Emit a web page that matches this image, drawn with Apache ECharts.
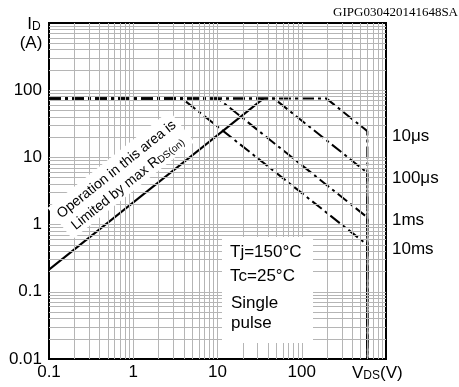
<!DOCTYPE html>
<html><head><meta charset="utf-8">
<script src="https://cdn.jsdelivr.net/npm/echarts@6/dist/echarts.min.js"></script>
<style>html,body{margin:0;padding:0;background:#fff}#c{width:459px;height:387px}</style>
</head><body><div id="c"></div>
<script>
// ---- data ----
const xTickLabels = ['0.1', '1', '10', '100'];
const yTickLabels = ['0.01', '0.1', '1', '10', '100'];
const xMin = 0.1, xMax = 1000;
const yMin = 0.01, yMax = 1000;
const pulseNames = ['10μs', '100μs', '1ms', '10ms'];
const idMax = 75;            // A, current limit
const vdsMax = 600;          // V, voltage limit
const kneeVds = [197, 47, 10.2, 3.8];      // V where each pulse line leaves the current limit
const endId = [24.6, 5.9, 1.28, 0.5];       // A at vdsMax for each pulse line
const rdsLine = [[0.1, 0.214], [35, 75]];   // RDS(on) limit line
const gridMultipliers = [1, 2, 3, 4, 5, 6, 7, 8, 9];
const xDecades = [0.1, 1, 10, 100];
const yDecades = [0.01, 0.1, 1, 10, 100];

// grid lines (decoration), strictly inside the plot area
const xGrid = [], yGrid = [];
xDecades.forEach(d => gridMultipliers.forEach(m => { const v = d * m; if (v > xMin * 1.0001 && v < xMax * 0.9999) xGrid.push(v); }));
xGrid.push(...[]);
yDecades.forEach(d => gridMultipliers.forEach(m => { const v = d * m; if (v > yMin * 1.0001 && v < yMax * 0.9999) yGrid.push(v); }));
// include decades themselves inside
[1, 10, 100].forEach(v => { if (!xGrid.includes(v)) xGrid.push(v); });

const FONT = "'Liberation Sans', Arial, sans-serif";
function fmt(list) {
  return function (v) {
    const s = list.find(t => Math.abs(Math.log10(+t) - Math.log10(v)) < 1e-6);
    return s || '';
  };
}

const series = [{
  type: 'line', data: [], silent: true, z: 1,
  markLine: {
    silent: true, symbol: ['none', 'none'], animation: false,
    label: { show: false },
    lineStyle: { color: '#b5b5b5', width: 1, type: 'solid' },
    emphasis: { disabled: true },
    data: [...xGrid.map(v => ({ xAxis: v })), ...yGrid.map(v => ({ yAxis: v }))]
  }
}];
pulseNames.forEach((n, i) => {
  series.push({
    name: n, type: 'line', symbol: 'none', z: 3, silent: true,
    data: [[xMin, idMax], [kneeVds[i], idMax], [vdsMax, endId[i]], [vdsMax, yMin]],
    lineStyle: { color: '#000', width: 2, type: [12, 4, 3, 4] }
  });
});
series.push({
  name: 'RDS(on)', type: 'line', symbol: 'none', z: 4, silent: true,
  data: rdsLine, lineStyle: { color: '#000', width: 2, type: 'solid' }
});

const chart = echarts.init(document.getElementById('c'), null, { renderer: 'canvas' });
chart.setOption({
  animation: false,
  backgroundColor: '#fff',
  grid: { left: 49, right: 73, top: 23, bottom: 28, show: true, borderColor: '#000', borderWidth: 2, backgroundColor: 'transparent' },
  xAxis: {
    type: 'log', logBase: 10, min: xMin, max: xMax,
    axisLine: { show: false }, axisTick: { show: false }, splitLine: { show: false },
    axisLabel: { formatter: fmt(xTickLabels), color: '#000', fontSize: 17, fontFamily: FONT, margin: 5, showMinLabel: true, showMaxLabel: true }
  },
  yAxis: {
    type: 'log', logBase: 10, min: yMin, max: yMax,
    axisLine: { show: false }, axisTick: { show: false }, splitLine: { show: false },
    axisLabel: { formatter: fmt(yTickLabels), color: '#000', fontSize: 17, fontFamily: FONT, margin: 7, showMinLabel: true, showMaxLabel: true }
  },
  series: series,
  graphic: [
    { type: 'text', x: 458, y: 13, z: 10, style: { text: 'GIPG030420141648SA', font: "13px 'Liberation Serif', 'Times New Roman', serif", fill: '#000', align: 'right', verticalAlign: 'middle' } },
    { type: 'text', x: 34, y: 24, z: 10, style: { text: '{a|I}{b|D}', align: 'center', verticalAlign: 'middle', rich: { a: { fontSize: 17, fontFamily: FONT, fill: '#000', lineHeight: 18, verticalAlign: 'bottom' }, b: { fontSize: 12, fontFamily: FONT, fill: '#000', lineHeight: 18, verticalAlign: 'bottom' } } } },
    { type: 'text', x: 31, y: 43, z: 10, style: { text: '(A)', font: '17px ' + FONT, fill: '#000', align: 'center', verticalAlign: 'middle' } },
    { type: 'text', x: 352, y: 373, z: 10, style: { text: '{a|V}{b|DS}{a|(V)}', align: 'left', verticalAlign: 'middle', rich: { a: { fontSize: 17, fontFamily: FONT, fill: '#000', lineHeight: 18, verticalAlign: 'bottom' }, b: { fontSize: 12, fontFamily: FONT, fill: '#000', lineHeight: 18, verticalAlign: 'bottom' } } } },
    { type: 'text', x: 392, y: 136, z: 10, style: { text: pulseNames[0], font: '17px ' + FONT, fill: '#000', align: 'left', verticalAlign: 'middle' } },
    { type: 'text', x: 392, y: 178, z: 10, style: { text: pulseNames[1], font: '17px ' + FONT, fill: '#000', align: 'left', verticalAlign: 'middle' } },
    { type: 'text', x: 392, y: 220, z: 10, style: { text: pulseNames[2], font: '17px ' + FONT, fill: '#000', align: 'left', verticalAlign: 'middle' } },
    { type: 'text', x: 392, y: 249, z: 10, style: { text: pulseNames[3], font: '17px ' + FONT, fill: '#000', align: 'left', verticalAlign: 'middle' } },
    { type: 'rect', z: 9, shape: { x: 222, y: 237, width: 91, height: 106 }, style: { fill: '#fff' } },
    { type: 'text', x: 230, y: 252, z: 10, style: { text: 'Tj=150°C', font: '17px ' + FONT, fill: '#000', align: 'left', verticalAlign: 'middle' } },
    { type: 'text', x: 230, y: 276, z: 10, style: { text: 'Tc=25°C', font: '17px ' + FONT, fill: '#000', align: 'left', verticalAlign: 'middle' } },
    { type: 'text', x: 231, y: 303, z: 10, style: { text: 'Single', font: '17px ' + FONT, fill: '#000', align: 'left', verticalAlign: 'middle' } },
    { type: 'text', x: 231, y: 323, z: 10, style: { text: 'pulse', font: '17px ' + FONT, fill: '#000', align: 'left', verticalAlign: 'middle' } },
    { type: 'text', x: 121, y: 175, z: 10, rotation: 38.6 * Math.PI / 180,
      style: {
        text: '{n|Operation in this area is}\n{n|Limited by max R}{s|DS(on)}',
        align: 'center', verticalAlign: 'middle', backgroundColor: '#fff', padding: [2, 4],
        rich: { n: { fontSize: 14, fontFamily: FONT, fill: '#000', lineHeight: 18, verticalAlign: 'bottom' }, s: { fontSize: 10, fontFamily: FONT, fill: '#000', lineHeight: 18, verticalAlign: 'bottom' } }
      } }
  ]
});
</script></body></html>
